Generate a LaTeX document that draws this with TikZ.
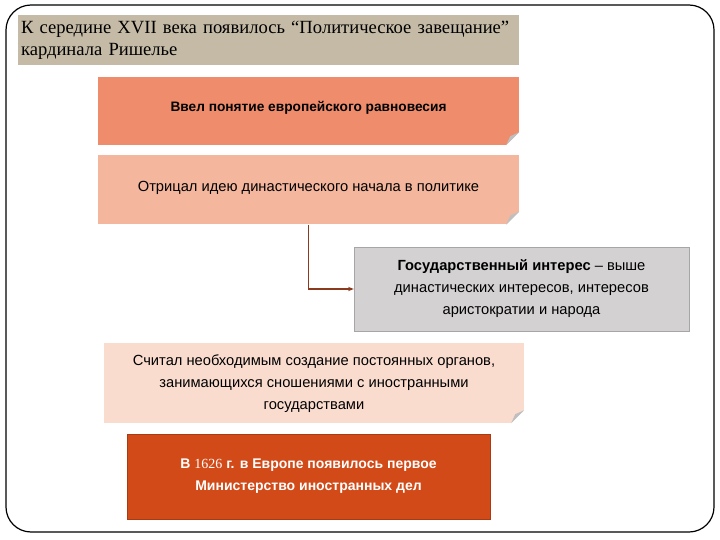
\documentclass[tikz,border=0pt]{standalone}
\usepackage{fontspec}
\setmainfont{Liberation Sans}
\newfontfamily\titlefont{Liberation Serif}
\usetikzlibrary{positioning,arrows.meta,calc}
\usepackage{xcolor}

\definecolor{titlebg}{HTML}{C4BAA6}
\definecolor{salmon}{HTML}{EE8C6C}
\definecolor{peach}{HTML}{F4B69C}
\definecolor{greybox}{HTML}{D3D1D1}
\definecolor{pinkbox}{HTML}{FADCCF}
\definecolor{rustbox}{HTML}{D14A18}
\definecolor{linkred}{HTML}{8B3A1E}

% folded bottom right corner
\newcommand{\foldcorner}[1]{%
  \fill[white] ($(#1.south east)+(-13,0)$) -- (#1.south east) -- ($(#1.south east)+(0,-13)$) -- cycle;
  \fill[black!25] ($(#1.south east)+(-13,0)$) -- ($(#1.south east)+(0,-13)$) -- ($(#1.south east)+(-9,-9)$) -- cycle;
}

\begin{document}
\begin{tikzpicture}[x=1pt, y=-1pt,
    box/.style={rectangle, inner sep=0pt, align=center,
                minimum width=421pt, minimum height=68pt,
                font=\fontsize{14.7}{22}\selectfont},
    arrow/.style={-{Stealth[length=2mm]}, line width=1.1pt, draw=linkred}
]
    \useasboundingbox (0,0) rectangle (720,540);
    \draw[line width=1.2pt, rounded corners=25pt] (6,5) rectangle (714,532);

    \node[rectangle, fill=titlebg, minimum width=501pt, minimum height=50pt,
          text width=495pt, align=left, inner sep=3pt,
          font=\titlefont\fontsize{18.6}{22}\selectfont] (title) at (268.5,40)
        {\raisebox{-3pt}{К середине XVII века появилось “Политическое завещание”}\\\raisebox{-3pt}{кардинала Ришелье}};

    \node[box, fill=salmon, font=\bfseries\fontsize{13.7}{22}\selectfont] (balance) at (308.5,111)
        {\raisebox{9pt}{Ввел понятие европейского равновесия}};
    \node[box, fill=peach, minimum height=69pt, below=10pt of balance] (dynasty)
        {\raisebox{7pt}{Отрицал идею династического начала в политике}};
    \node[box, fill=greybox, draw=black!35, minimum width=335pt, minimum height=84pt] (state) at (521.5,289)
        {\textbf{Государственный интерес} – выше\\династических интересов, интересов\\аристократии и народа};
    \node[box, fill=pinkbox, minimum width=420pt, minimum height=80pt] (organs) at (314,383)
        {\raisebox{7pt}{\begin{tabular}{@{}c@{}}Считал необходимым создание постоянных органов,\\занимающихся сношениями с иностранными\\государствами\end{tabular}}};
    \node[box, fill=rustbox, draw=rustbox!80!black, text=white, minimum width=363pt, minimum height=85pt,
          font=\bfseries\fontsize{14}{22}\selectfont] (ministry) at (308.5,476.5)
        {В {\titlefont\mdseries 1626} г. в Европе появилось первое\\Министерство иностранных дел};

    \foldcorner{balance}
    \foldcorner{dynasty}
    \foldcorner{organs}

    \draw[arrow] (dynasty.south) |- (state.west);
\end{tikzpicture}
\end{document}
